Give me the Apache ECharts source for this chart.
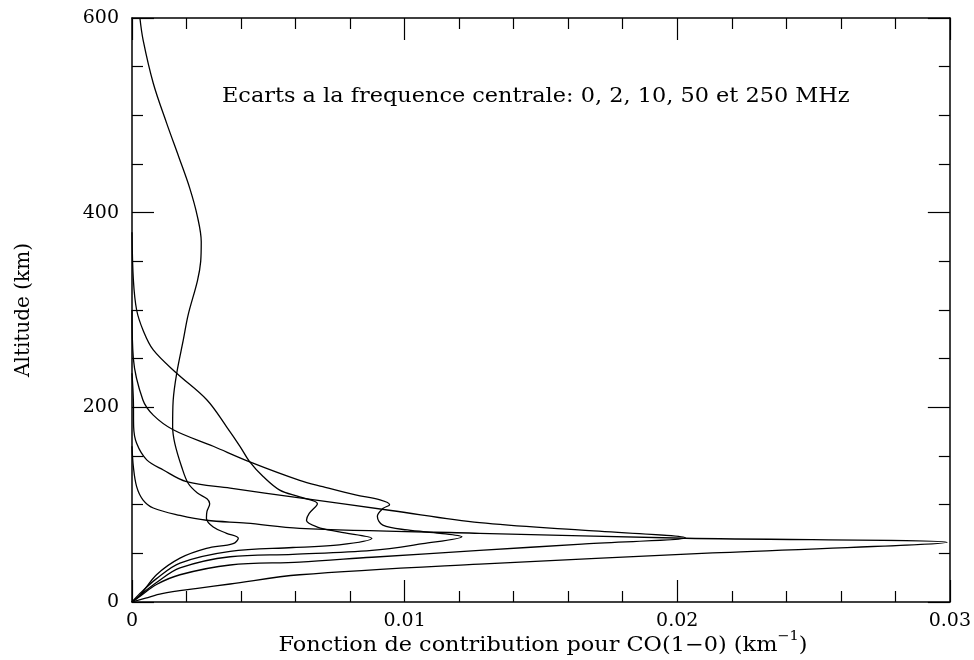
<!DOCTYPE html>
<html>
<head>
<meta charset="utf-8">
<script src="https://cdn.jsdelivr.net/npm/echarts@6/dist/echarts.min.js"></script>
<style>html,body{margin:0;padding:0;background:#fff}#c{width:974px;height:660px}</style>
</head>
<body>
<div id="c"></div>
<script>
// Frequency offsets (MHz) of the five curves
const offsets = [0, 2, 10, 50, 250];
const xTickLabels = ['0', '0.01', '0.02', '0.03'];
const yTickLabels = ['0', '200', '400', '600'];

// Curve 0 MHz: contribution values and altitudes (km)
const val0 = [0.00029,0.00041,0.00078,0.00127,0.00172,0.00212,0.0024,0.00254,0.00252,0.0024,0.00206,0.00188,0.00164,0.00151,0.00149,0.00157,0.00182,0.00206,0.0024,0.00275,0.00285,0.00275,0.00273,0.00298,0.00347,0.0039,0.00371,0.00273,0.00176,0.0009,0.0003,0];
const alt0 = [600,577,533,492,457,425,396,370,350,330,295,269,235,207,180,163,139,122,112,106,101,93,86,77,70.6,65.4,60,55,45,28,7,0];

// Curve 2 MHz
const val2 = [0,0.00005,0.00017,0.00041,0.00078,0.00164,0.00275,0.00347,0.00396,0.00432,0.00481,0.00542,0.00615,0.0068,0.0065,0.0064,0.0068,0.0076,0.0088,0.0076,0.0059,0.0036,0.00176,0.0009,0.0003,0];
const alt2 = [380,331,300,279,259,235,207.5,180,160,144,129,115,108,101,91,84,77,72,65.4,58.6,56,52,40,24,9,0];

// Curve 10 MHz
const val10 = [0,0.00005,0.0004,0.00078,0.00151,0.00298,0.00432,0.00615,0.007,0.0082,0.0091,0.00945,0.0092,0.009,0.0092,0.0101,0.0113,0.0121,0.01067,0.0088,0.0059,0.0036,0.00176,0.0009,0.0003,0];
const alt10 = [300,250,207.5,192,177,160,144,125,118.5,110,105,100,96,88,79,74,70.6,67,60,53,49,46.5,35,20,7,0];

// Curve 50 MHz
const val50 = [0,0.00005,0.00006,0.00017,0.00054,0.00115,0.002,0.0036,0.00615,0.0095,0.01275,0.0165,0.0203,0.0165,0.01275,0.0088,0.00615,0.0036,0.00176,0.0009,0.0003,0];
const alt50 = [235,207.5,180,163,146,135.6,123.6,117,107,94,81.5,73.8,66,59.5,53,46,41,38,28,18,6,0];

// Curve 250 MHz
const val250 = [0,0.00005,0.00017,0.0004,0.00078,0.00176,0.00273,0.0042,0.00615,0.01275,0.0203,0.0299,0.0213,0.01275,0.00615,0.0036,0.0024,0.0011,0.0005,0];
const alt250 = [160,139,118.5,105,96.6,89,84,81,75.7,70.6,65.5,61.3,50.4,39,28,18.5,14,8.6,4,0];

const curves = [[val0, alt0], [val2, alt2], [val10, alt10], [val50, alt50], [val250, alt250]];

const FONT = 'DejaVu Serif';
const chart = echarts.init(document.getElementById('c'), null, {renderer: 'canvas'});

function xFmt(v) {
  const i = Math.round(v / 0.01);
  return Math.abs(v - i * 0.01) < 1e-9 && xTickLabels[i] !== undefined ? xTickLabels[i] : '';
}
function yFmt(v) {
  const i = Math.round(v / 200);
  return yTickLabels[i] !== undefined ? yTickLabels[i] : '';
}

const axisLine = {show: true, onZero: false, lineStyle: {color: '#000', width: 1.5}};
const axisTick = {show: true, inside: true, length: 22, lineStyle: {color: '#000', width: 1.2}};
function minor(n) { return {show: true, splitNumber: n, length: 11, lineStyle: {color: '#000', width: 1.2}}; }

const option = {
  animation: false,
  backgroundColor: '#fff',
  grid: {left: 132, right: 23, top: 18, bottom: 58, containLabel: false},
  xAxis: [
    {type: 'value', min: 0, max: 0.03, interval: 0.01, position: 'bottom',
      axisLine, axisTick, minorTick: minor(5), splitLine: {show: false},
      axisLabel: {formatter: xFmt, color: '#000', fontFamily: FONT, fontSize: 19, margin: 10}},
    {type: 'value', min: 0, max: 0.03, interval: 0.01, position: 'top',
      axisLine, axisTick, minorTick: minor(5), splitLine: {show: false},
      axisLabel: {show: false}}
  ],
  yAxis: [
    {type: 'value', min: 0, max: 600, interval: 200, position: 'left',
      axisLine, axisTick, minorTick: minor(4), splitLine: {show: false},
      axisLabel: {formatter: yFmt, color: '#000', fontFamily: FONT, fontSize: 19, margin: 13},
      name: 'Altitude (km)', nameLocation: 'middle', nameGap: 98, nameRotate: 90,
      nameTextStyle: {color: '#000', fontFamily: FONT, fontSize: 20}},
    {type: 'value', min: 0, max: 600, interval: 200, position: 'right',
      axisLine, axisTick, minorTick: minor(4), splitLine: {show: false},
      axisLabel: {show: false}}
  ],
  graphic: [
    {type: 'text', x: 222, y: 97, scaleX: 1.12,
      style: {text: 'Ecarts a la frequence centrale: 0, 2, 10, 50 et 250 MHz', fill: '#000',
        font: '20px "DejaVu Serif"', verticalAlign: 'middle', align: 'left'}},
    {type: 'text', x: 543, y: 643, scaleX: 1.12,
      style: {text: '{n|Fonction de contribution pour CO(1\u22120) (km}{sup|\u22121}{n|)}', fill: '#000',
        font: '20px "DejaVu Serif"', verticalAlign: 'middle', align: 'center',
        rich: {
          n: {fontFamily: FONT, fontSize: 20, fill: '#000', verticalAlign: 'bottom', lineHeight: 26},
          sup: {fontFamily: FONT, fontSize: 13, fill: '#000', verticalAlign: 'top', lineHeight: 16}
        }}}
  ],
  series: curves.map((c, k) => ({
    name: offsets[k] + ' MHz',
    type: 'line',
    xAxisIndex: 0, yAxisIndex: 0,
    showSymbol: false, symbol: 'none',
    smooth: 0.35,
    lineStyle: {color: '#000', width: 1.3},
    data: c[0].map((v, i) => [v, c[1][i]])
  }))
};
chart.setOption(option);
</script>
</body>
</html>
